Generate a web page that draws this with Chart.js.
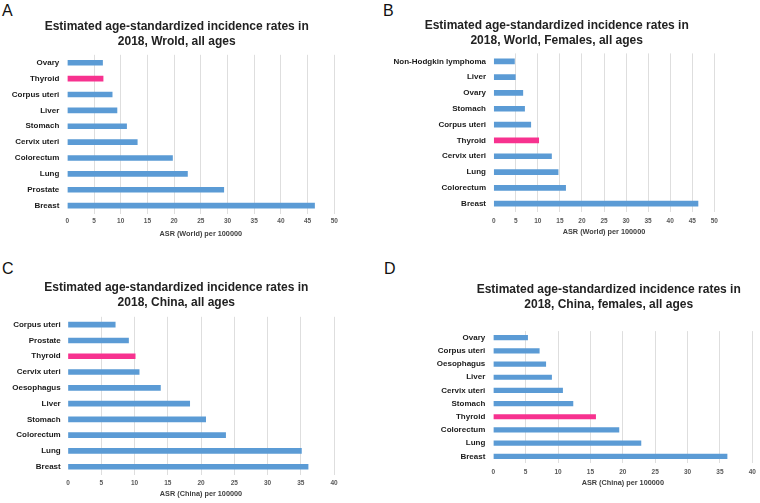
<!DOCTYPE html>
<html>
<head>
<meta charset="utf-8">
<script src="https://cdn.jsdelivr.net/npm/chart.js@4/dist/chart.umd.min.js"></script>
<style>
  html, body { margin: 0; padding: 0; background: #ffffff; overflow: hidden; }
  #wrap { position: relative; width: 760px; height: 503px; overflow: hidden; background: #fff; }
  .panel { position: absolute; }
  .letter { position: absolute; font-family: "Liberation Sans", Arial, sans-serif; font-size: 16px; color: #111; line-height: 1; }
</style>
</head>
<body>
<div id="wrap">
  <div class="letter" style="left:2px;top:3px;">A</div>
  <div class="letter" style="left:383px;top:3px;">B</div>
  <div class="letter" style="left:2px;top:261px;">C</div>
  <div class="letter" style="left:384px;top:261px;">D</div>
  <canvas id="cA" class="panel" width="380" height="250" style="left:0;top:0;"></canvas>
  <canvas id="cB" class="panel" width="380" height="250" style="left:380px;top:0;"></canvas>
  <canvas id="cC" class="panel" width="380" height="253" style="left:0;top:250px;"></canvas>
  <canvas id="cD" class="panel" width="460" height="253" style="left:380px;top:250px;"></canvas>
</div>
<script>
// ---- Data ----
const titleA = ['Estimated age-standardized incidence rates in', '2018, Wrold, all ages'];
const catsA = ['Ovary', 'Thyroid', 'Corpus uteri', 'Liver', 'Stomach', 'Cervix uteri', 'Colorectum', 'Lung', 'Prostate', 'Breast'];
const valsA = [6.6, 6.7, 8.4, 9.3, 11.1, 13.1, 19.7, 22.5, 29.3, 46.3];
const axisA = 'ASR (World) per 100000';

const titleB = ['Estimated age-standardized incidence rates in', '2018, World, Females, all ages'];
const catsB = ['Non-Hodgkin lymphoma', 'Liver', 'Ovary', 'Stomach', 'Corpus uteri', 'Thyroid', 'Cervix uteri', 'Lung', 'Colorectum', 'Breast'];
const valsB = [4.7, 4.9, 6.6, 7.0, 8.4, 10.2, 13.1, 14.6, 16.3, 46.3];
const axisB = 'ASR (World) per 100000';

const titleC = ['Estimated age-standardized incidence rates in', '2018, China, all ages'];
const catsC = ['Corpus uteri', 'Prostate', 'Thyroid', 'Cervix uteri', 'Oesophagus', 'Liver', 'Stomach', 'Colorectum', 'Lung', 'Breast'];
const valsC = [7.1, 9.1, 10.1, 10.7, 13.9, 18.3, 20.7, 23.7, 35.1, 36.1];
const axisC = 'ASR (China) per 100000';

const titleD = ['Estimated age-standardized incidence rates in', '2018, China, females, all ages'];
const catsD = ['Ovary', 'Corpus uteri', 'Oesophagus', 'Liver', 'Cervix uteri', 'Stomach', 'Thyroid', 'Colorectum', 'Lung', 'Breast'];
const valsD = [5.3, 7.1, 8.1, 9.0, 10.7, 12.3, 15.8, 19.4, 22.8, 36.1];
const axisD = 'ASR (China) per 100000';

const maxAB = 50;
const maxCD = 40;
const stepX = 5;
const highlightCat = 'Thyroid';

// ---- Styling ----
const FONT = '"Liberation Sans", Arial, Helvetica, sans-serif';
const BLUE = '#5b9bd5';
const PINK = '#f7328f';

function makePanel(id, cats, vals, title, axisTitle, xmax, g) {
  const colors = cats.map(c => c === highlightCat ? PINK : BLUE);
  return new Chart(document.getElementById(id), {
    type: 'bar',
    data: {
      labels: cats,
      datasets: [{ data: vals, backgroundColor: colors, borderWidth: 0, barThickness: g.bar, yAxisID: 'y', xAxisID: 'x' }]
    },
    options: {
      indexAxis: 'y',
      responsive: false,
      animation: false,
      devicePixelRatio: 1,
      layout: { padding: { left: 0, right: g.padR, top: 0, bottom: g.padB } },
      plugins: {
        legend: { display: false },
        tooltip: { enabled: false },
        title: {
          display: true,
          text: title,
          color: '#222222',
          font: { family: FONT, size: 12, weight: 'bold', lineHeight: 1.25 },
          padding: { top: g.tTop, bottom: g.tBot }
        }
      },
      scales: {
        x: {
          min: 0, max: xmax,
          ticks: { stepSize: stepX, color: '#595959', padding: g.tickPad,
                   font: { family: FONT, size: 6.5, weight: 'bold', lineHeight: 1.2 } },
          grid: { drawTicks: false, color: ctx => (ctx.tick && ctx.tick.value === 0) ? 'rgba(0,0,0,0)' : '#dedede', lineWidth: 1 },
          border: { display: false },
          title: { display: true, text: axisTitle, color: '#404040', padding: 0,
                   font: { family: FONT, size: 7.3, weight: 'bold', lineHeight: 1.2 } },
          afterFit: s => { s.height = g.xH; }
        },
        y: {
          ticks: { color: '#1a1a1a', padding: g.yPad, autoSkip: false,
                   font: { family: FONT, size: 8, weight: 'bold' } },
          grid: { display: false, drawTicks: false },
          border: { display: false },
          afterFit: s => { s.width = g.yW; }
        },
        ySpacer: {
          type: 'linear',
          axis: 'y',
          position: 'right',
          display: true,
          ticks: { display: false },
          grid: { display: false, drawTicks: false },
          border: { display: false },
          afterFit: s => { s.width = g.rW; }
        }
      }
    }
  });
}

// geometry: chart left = yW; title box right = W - padR = 2 * titleCenter; chart right = box right - rW
makePanel('cA', catsA, valsA, titleA, axisA, maxAB,
  { padR: 26.6, rW: 19.1, padB: 11.6, tTop: 19, tBot: 5.8, xH: 24.8, tickPad: 3.8, yW: 67.3, yPad: 8, bar: 5 });
makePanel('cB', catsB, valsB, titleB, axisB, maxAB,
  { padR: 26.6, rW: 19.1, padB: 13.3, tTop: 18, tBot: 5.4, xH: 25.1, tickPad: 5.4, yW: 113.7, yPad: 7.7, bar: 5 });
makePanel('cC', catsC, valsC, titleC, axisC, maxCD,
  { padR: 27.4, rW: 18.6, padB: 4.3, tTop: 30.5, tBot: 6.3, xH: 24.1, tickPad: 4.4, yW: 68, yPad: 7.3, bar: 5 });
makePanel('cD', catsD, valsD, titleD, axisD, maxCD,
  { padR: 2.6, rW: 85.1, padB: 15.9, tTop: 32, tBot: 19.1, xH: 24.2, tickPad: 5, yW: 113.3, yPad: 8, bar: 4.5 });
</script>
</body>
</html>
